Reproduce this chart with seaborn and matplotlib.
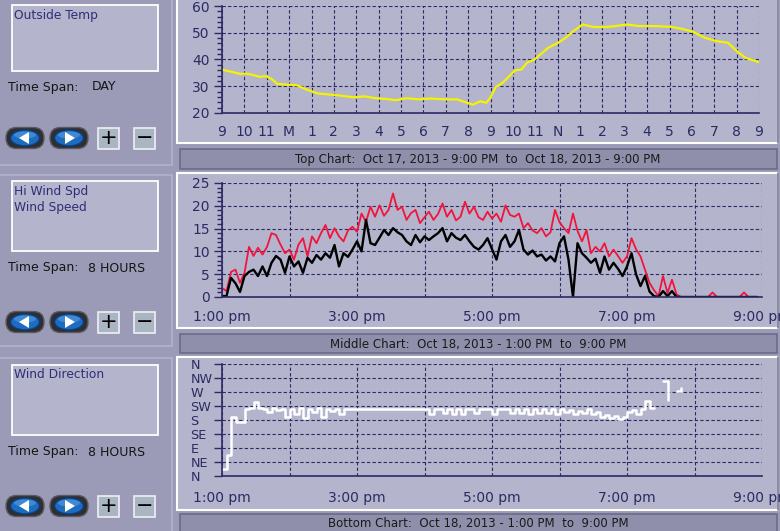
import numpy as np
import pandas as pd
import matplotlib
matplotlib.use("Agg")
import matplotlib.pyplot as plt
from matplotlib.patches import Rectangle, FancyBboxPatch, Ellipse, Polygon
from matplotlib.ticker import MultipleLocator
import seaborn as sns

nan = np.nan

# --- top chart: outside temp, Oct 17 9 PM -> Oct 18 9 PM (hours after 9 PM) ---
temp_hours = [0.0, 0.48, 0.83, 1.09, 1.35, 1.69, 1.95, 2.21, 2.47, 2.91,
              3.34, 3.77, 4.29, 4.81, 5.29, 5.84, 6.36, 6.88, 7.40, 7.75,
              8.27, 8.78, 9.30, 9.99, 10.51, 10.86, 11.21, 11.55, 11.81, 11.98,
              12.24, 12.50, 12.76, 13.11, 13.37, 13.63, 13.97, 14.23, 14.58, 15.01,
              15.36, 15.70, 16.13, 16.57, 17.08, 17.60, 18.09, 18.64, 19.33, 20.06,
              20.54, 21.04, 21.58, 22.10, 22.62, 23.05, 23.40, 24.0]
temp_values = [36.2, 35.3, 34.6, 34.7, 34.3, 33.5, 33.8, 32.8, 30.9, 30.6,
               30.4, 28.8, 27.3, 26.9, 26.5, 25.9, 26.2, 25.5, 25.2, 24.8,
               25.5, 25.1, 25.4, 25.1, 25.1, 24.1, 23.1, 24.4, 23.8, 25.6,
               29.8, 31.0, 33.1, 36.0, 36.2, 38.8, 40.0, 41.9, 44.4, 46.2,
               48.1, 50.6, 53.1, 52.2, 52.1, 52.5, 53.1, 52.5, 52.5, 52.2,
               51.5, 50.4, 48.1, 46.9, 46.2, 42.8, 40.6, 39.0]
hour_labels = ['9', '10', '11', 'M', '1', '2', '3', '4', '5', '6', '7', '8',
               '9', '10', '11', 'N', '1', '2', '3', '4', '5', '6', '7', '8', '9']

# --- middle / bottom charts: Oct 18 1 PM -> 9 PM, one sample every 4 minutes ---
wind_minutes = np.arange(0, 480, 4)
hi_wind = [2.0, 1.3, 5.5, 6.0, 3.1, 5.3, 11.0, 9.0, 10.8, 9.3, 11.0, 14.0, 13.6, 11.5, 9.6,
           10.4, 8.2, 11.5, 12.9, 8.9, 13.3, 11.8, 14.0, 15.8, 12.9, 15.1, 13.3, 12.2, 14.6, 15.4,
           14.3, 18.3, 16.5, 19.8, 17.6, 20.1, 17.8, 19.1, 22.7, 19.1, 19.8, 16.9, 18.4, 19.1, 16.2,
           17.5, 18.7, 16.9, 18.2, 20.5, 17.6, 19.1, 16.8, 17.6, 20.9, 18.3, 19.8, 17.5, 16.9, 18.7,
           17.2, 18.3, 16.5, 20.1, 18.0, 17.6, 18.3, 15.1, 16.2, 14.6, 14.0, 15.1, 13.3, 14.2, 19.1,
           16.4, 15.1, 14.0, 18.3, 14.5, 12.2, 14.7, 9.6, 11.0, 10.0, 11.8, 8.9, 10.4, 9.0, 7.5,
           8.9, 12.9, 10.5, 8.9, 6.0, 3.1, 1.5, 0.2, 4.6, 0.9, 3.8, 0.6, 0.0, 0.0, 0.0,
           0.0, 0.0, 0.0, 0.0, 1.0, 0.0, 0.0, 0.0, 0.0, 0.0, 0.0, 1.0, 0.0, 0.0, 0.0]
wind_speed = [0.2, 0.2, 4.2, 3.0, 1.1, 4.6, 5.5, 6.0, 4.6, 6.7, 4.6, 7.5, 9.0, 8.2, 5.3,
              8.9, 6.7, 7.8, 5.3, 8.6, 7.5, 9.2, 8.2, 9.6, 8.6, 11.4, 6.7, 9.6, 8.8, 10.4,
              12.2, 10.0, 16.9, 11.8, 11.4, 13.0, 14.7, 13.6, 15.1, 14.2, 13.6, 12.2, 11.4, 13.6, 12.0,
              13.3, 12.5, 13.3, 14.0, 15.1, 12.2, 14.0, 13.0, 12.5, 13.6, 12.2, 11.0, 10.4, 11.4, 12.9,
              10.5, 8.2, 12.2, 13.6, 11.0, 12.2, 14.7, 10.4, 9.3, 10.2, 8.9, 9.3, 8.0, 8.9, 7.8,
              11.8, 13.3, 8.2, 0.0, 11.8, 9.6, 8.6, 7.5, 8.4, 5.3, 8.9, 6.0, 7.5, 6.2, 4.6,
              6.7, 9.6, 5.0, 2.4, 4.6, 1.2, 0.2, 0.0, 1.3, 0.2, 1.3, 0.0, 0.0, 0.0, 0.0,
              0.0, 0.0, 0.0, 0.0, 0.0, 0.0, 0.0, 0.0, 0.0, 0.0, 0.0, 0.0, 0.0, 0.0, 0.0]
wind_dir = [22, 67, 190, 173, 173, 214, 220, 238, 220, 216, 205, 218, 212, 216, 190,
            216, 200, 218, 188, 216, 205, 218, 190, 216, 210, 216, 200, 216, 216, 216,
            216, 216, 216, 216, 216, 216, 216, 216, 216, 216, 216, 216, 216, 216, 216,
            216, 200, 216, 216, 202, 216, 200, 216, 200, 216, 216, 203, 216, 216, 216,
            200, 216, 216, 216, 203, 216, 202, 216, 200, 216, 201, 216, 203, 216, 200,
            216, 205, 212, 200, 210, 203, 214, 200, 205, 190, 195, 185, 192, 183, 190,
            205, 212, 200, 216, 241, 218, 218, nan, 305, 243, nan, 272, 282, nan, nan,
            nan, nan, nan, nan, nan, nan, nan, nan, nan, nan, nan, nan, nan, nan, nan]
time_labels = ['1:00 pm', '', '3:00 pm', '', '5:00 pm', '', '7:00 pm', '', '9:00 pm']
dir_labels = ['N', 'NE', 'E', 'SE', 'S', 'SW', 'W', 'NW', 'N']

BG = '#9b9bb7'
PANEL = '#b4b4cc'
BAR = '#8f8fab'
NAVY = '#2b2b64'

sns.set_style('white')
plt.rcParams['font.family'] = ['DejaVu Sans']

W, H = 780, 531
fig = plt.figure(figsize=(W / 100, H / 100), dpi=100, facecolor=BG)

# background layer in pixel coordinates
ui = fig.add_axes([0, 0, 1, 1], zorder=0)
ui.set_xlim(0, W)
ui.set_ylim(H, 0)
ui.axis('off')


def rect(x0, y0, x1, y1, **kw):
    ui.add_patch(Rectangle((x0, y0), x1 - x0, y1 - y0, **kw))


def button(cx, cy, right):
    ui.add_patch(FancyBboxPatch((cx - 19, cy - 10.5), 38, 21,
                                boxstyle='round,pad=0,rounding_size=10.5',
                                fc='#2f2f33', ec='#5a5a60', lw=1))
    ui.add_patch(Ellipse((cx, cy), 29, 16, fc='#1d6cc0', ec='#0c3b78', lw=1))
    ui.add_patch(Ellipse((cx, cy - 3), 22, 7, fc='#5b9ee0', ec='none', alpha=0.6))
    if right:
        tri = [(cx - 4, cy - 6), (cx - 4, cy + 6), (cx + 6, cy)]
    else:
        tri = [(cx + 4, cy - 6), (cx + 4, cy + 6), (cx - 6, cy)]
    ui.add_patch(Polygon(tri, closed=True, fc='white', ec='none'))


def sign_box(x0, cy, sign):
    rect(x0, cy - 10.5, x0 + 21, cy + 10.5, fc='#a9b5c2', ec='#eef0f4', lw=1.2)
    ui.text(x0 + 10.5, cy + 0.5, sign, ha='center', va='center', fontsize=15, color='black')


# left control column
for y0, y1 in [(-3, 165), (175, 346), (358, 540)]:
    rect(-3, y0, 172, y1, fc='none', ec='#b2b2ca', lw=1.2)

left_panels = [
    (5, 71, ['Outside Temp'], 87, 'DAY', 92, 138),
    (181, 251, ['Hi Wind Spd', 'Wind Speed'], 268, '8 HOURS', 88, 322),
    (365, 435, ['Wind Direction'], 452, '8 HOURS', 88, 506),
]
for top, bottom, names, span_y, span, span_x, btn_y in left_panels:
    rect(12, top, 158, bottom, fc=PANEL, ec='white', lw=1.3)
    for i, name in enumerate(names):
        ui.text(14, top + 10 + 16 * i, name, ha='left', va='center', fontsize=8.8, color='#2e2e78')
    ui.text(8, span_y, 'Time Span:', ha='left', va='center', fontsize=9, color='#151515')
    ui.text(span_x, span_y, span, ha='left', va='center', fontsize=9, color='#151515')
    button(25, btn_y, False)
    button(69, btn_y, True)
    sign_box(98, btn_y, '+')
    sign_box(134, btn_y, '\u2212')

# chart panels and caption bars
captions = [
    (-4, 143, 149, 169, 'Top Chart:  Oct 17, 2013 - 9:00 PM  to  Oct 18, 2013 - 9:00 PM'),
    (173, 328, 334, 353, 'Middle Chart:  Oct 18, 2013 - 1:00 PM  to  9:00 PM'),
    (357, 510, 514, 540, 'Bottom Chart:  Oct 18, 2013 - 1:00 PM  to  9:00 PM'),
]
for p0, p1, b0, b1, text in captions:
    rect(177, p0, 778, p1, fc=PANEL, ec='white', lw=1.5)
    ui.plot([778, 778], [p0, p1], color='#77778f', lw=1.2)
    rect(180, b0, 777, b1, fc=BAR, ec='#6c6c88', lw=1.2)
    ui.text(478, (b0 + min(b1, 531)) / 2 + 1, text, ha='center', va='center', fontsize=8.5, color='#1a1a1a')


def px_axes(left, top, right, bottom):
    return fig.add_axes([left / W, 1 - bottom / H, (right - left) / W, (bottom - top) / H], zorder=2)


def style(ax, xpad):
    ax.set_facecolor('none')
    for side in ['top', 'right']:
        ax.spines[side].set_visible(False)
    for side in ['left', 'bottom']:
        ax.spines[side].set_color(NAVY)
        ax.spines[side].set_linewidth(1.2)
    ax.grid(True, which='major', color=NAVY, linestyle=(0, (3, 2)), linewidth=0.8)
    ax.set_axisbelow(True)
    ax.tick_params(axis='y', which='major', length=5.8, width=1, color=NAVY,
                   labelcolor=NAVY, labelsize=10, pad=3, left=True)
    ax.tick_params(axis='y', which='minor', length=3.6, width=1, color=NAVY, left=True)
    ax.tick_params(axis='x', length=0, pad=xpad, labelcolor=NAVY, labelsize=10)
    ax.set_xlabel('')
    ax.set_ylabel('')


# top chart
ax_top = px_axes(222, 6, 759, 113)
sns.lineplot(x=temp_hours, y=temp_values, ax=ax_top, color='#f4f400', lw=1.6)
ax_top.set_xlim(0, 24)
ax_top.set_ylim(20, 60)
ax_top.set_xticks(range(25))
ax_top.set_xticklabels(hour_labels)
ax_top.set_yticks(range(20, 61, 10))
ax_top.yaxis.set_minor_locator(MultipleLocator(2))
style(ax_top, 9)

# middle chart
ax_mid = px_axes(222, 183, 762, 297)
sns.lineplot(x=wind_minutes, y=hi_wind, ax=ax_mid, color='#f2143c', lw=1.3)
sns.lineplot(x=wind_minutes, y=wind_speed, ax=ax_mid, color='black', lw=1.7)
ax_mid.set_xlim(0, 480)
ax_mid.set_ylim(0, 25)
ax_mid.set_xticks(range(0, 481, 60))
ax_mid.set_xticklabels(time_labels)
ax_mid.set_yticks(range(0, 26, 5))
ax_mid.yaxis.set_minor_locator(MultipleLocator(1))
style(ax_mid, 9)

# bottom chart
dir_df = pd.DataFrame({'minute': wind_minutes, 'deg': wind_dir})
dir_df['seg'] = dir_df['deg'].isna().cumsum()
dir_df = dir_df.dropna()
ax_bot = px_axes(222, 364, 762, 476)
sns.lineplot(data=dir_df, x='minute', y='deg', units='seg', estimator=None, ax=ax_bot,
             color='white', lw=1.8, drawstyle='steps-post', legend=False)
ax_bot.set_xlim(0, 480)
ax_bot.set_ylim(0, 360)
ax_bot.set_xticks(range(0, 481, 60))
ax_bot.set_xticklabels(time_labels)
ax_bot.set_yticks(range(0, 361, 45))
ax_bot.set_yticklabels(dir_labels)
style(ax_bot, 11)
ax_bot.tick_params(axis='y', which='major', pad=17)
for lab in ax_bot.get_yticklabels():
    lab.set_horizontalalignment('left')
    lab.set_fontsize(9.2)

fig.savefig('out.png', dpi=100, facecolor=BG)
